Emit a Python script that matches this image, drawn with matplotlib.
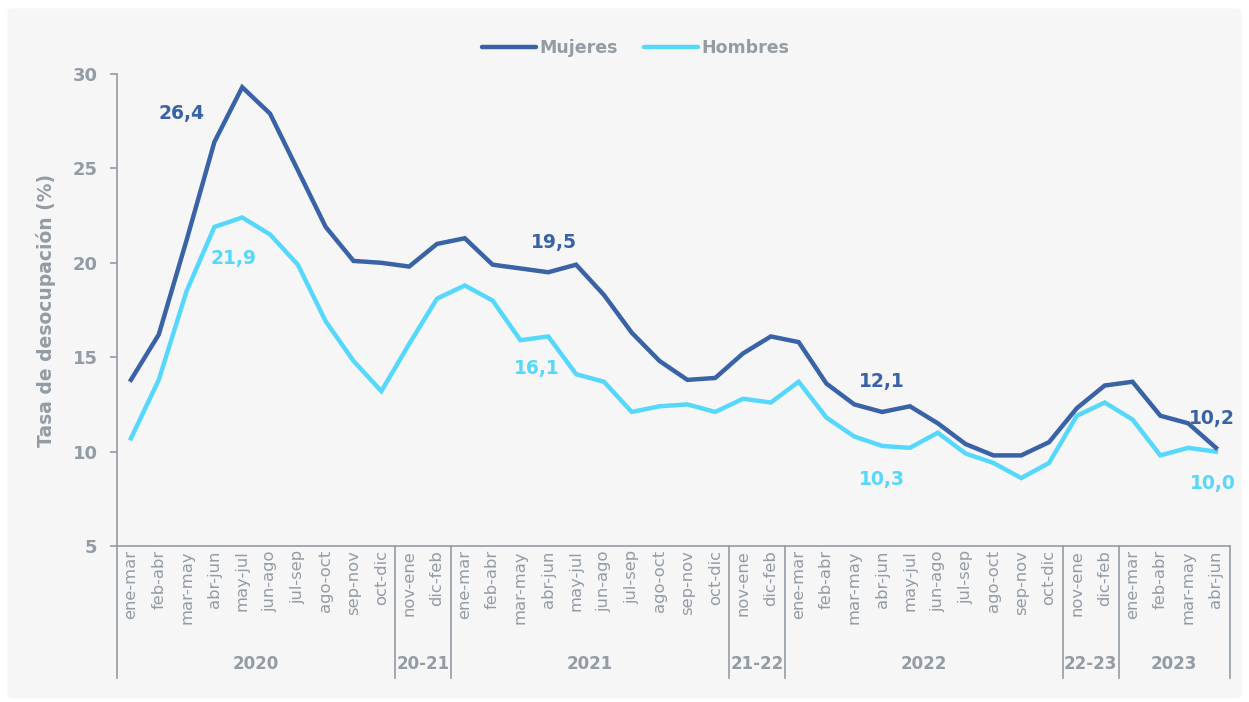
import matplotlib.pyplot as plt
import matplotlib.transforms as mtransforms
from matplotlib.patches import FancyBboxPatch

# Trimestres móviles
periodos = ["ene-mar", "feb-abr", "mar-may", "abr-jun", "may-jul", "jun-ago",
            "jul-sep", "ago-oct", "sep-nov", "oct-dic",
            "nov-ene", "dic-feb",
            "ene-mar", "feb-abr", "mar-may", "abr-jun", "may-jul", "jun-ago",
            "jul-sep", "ago-oct", "sep-nov", "oct-dic",
            "nov-ene", "dic-feb",
            "ene-mar", "feb-abr", "mar-may", "abr-jun", "may-jul", "jun-ago",
            "jul-sep", "ago-oct", "sep-nov", "oct-dic",
            "nov-ene", "dic-feb",
            "ene-mar", "feb-abr", "mar-may", "abr-jun"]

grupos = ["2020", "20-21", "2021", "21-22", "2022", "22-23", "2023"]
grupo_n = [10, 2, 10, 2, 10, 2, 4]

mujeres = [13.8, 16.2, 21.2, 26.4, 29.3, 27.9, 24.9, 21.9, 20.1, 20.0,
           19.8, 21.0,
           21.3, 19.9, 19.7, 19.5, 19.9, 18.3, 16.3, 14.8, 13.8, 13.9,
           15.2, 16.1,
           15.8, 13.6, 12.5, 12.1, 12.4, 11.5, 10.4, 9.8, 9.8, 10.5,
           12.3, 13.5,
           13.7, 11.9, 11.5, 10.2]

hombres = [10.7, 13.8, 18.5, 21.9, 22.4, 21.5, 19.9, 16.9, 14.8, 13.2,
           15.7, 18.1,
           18.8, 18.0, 15.9, 16.1, 14.1, 13.7, 12.1, 12.4, 12.5, 12.1,
           12.8, 12.6,
           13.7, 11.8, 10.8, 10.3, 10.2, 11.0, 9.9, 9.4, 8.6, 9.4,
           11.9, 12.6,
           11.7, 9.8, 10.2, 10.0]

# etiquetas destacadas: (serie, texto, x, y)
etiquetas = [("m", "26,4", 1.8, 27.9), ("h", "21,9", 3.7, 20.25),
             ("m", "19,5", 15.2, 21.05), ("h", "16,1", 14.6, 14.4),
             ("m", "12,1", 27.0, 13.7), ("h", "10,3", 27.0, 8.5),
             ("m", "10,2", 38.85, 11.75), ("h", "10,0", 38.9, 8.3)]

C_MUJ = "#3a62a7"
C_HOM = "#56d8fc"
GRIS = "#939ba5"
FONDO = "#f6f6f6"

plt.rcParams['font.family'] = ['DejaVu Sans']

fig = plt.figure(figsize=(12.49, 7.02), dpi=100)
fig.patch.set_facecolor("white")
fig.patches.append(FancyBboxPatch((0.006, 0.005), 0.988, 0.983,
                                  boxstyle="round,pad=0,rounding_size=0.005",
                                  transform=fig.transFigure, facecolor=FONDO,
                                  edgecolor="none", zorder=-10))

ax = fig.add_axes([0.0937, 0.2222, 0.891, 0.6724])
ax.set_facecolor(FONDO)

x = list(range(len(periodos)))
ax.plot(x, mujeres, color=C_MUJ, lw=3.2, label="Mujeres", solid_joinstyle="miter", zorder=3)
ax.plot(x, hombres, color=C_HOM, lw=3.2, label="Hombres", solid_joinstyle="miter", zorder=2)

for s, txt, tx, ty in etiquetas:
    ax.text(tx, ty, txt, color=C_MUJ if s == "m" else C_HOM, fontsize=13.5,
            fontweight="bold", ha="center", va="center")

ax.set_xlim(-0.5, len(periodos) - 0.5)
ax.set_ylim(5, 30)
ax.set_yticks([5, 10, 15, 20, 25, 30])
ax.set_xticks(x)
ax.set_xticklabels(periodos, rotation=90, fontsize=11.8, color=GRIS)
ax.tick_params(axis="x", length=0, pad=3)
ax.tick_params(axis="y", length=5, width=1.2, color=GRIS, labelcolor=GRIS,
               labelsize=13, pad=9)
for lab in ax.get_yticklabels():
    lab.set_fontweight("bold")

for sp in ["top", "right"]:
    ax.spines[sp].set_visible(False)
for sp in ["left", "bottom"]:
    ax.spines[sp].set_color(GRIS)
    ax.spines[sp].set_linewidth(1.2)

ax.set_ylabel("Tasa de desocupación (%)", color=GRIS, fontsize=13.5,
              fontweight="bold", labelpad=12)

# separadores y nombres de grupo
trans = mtransforms.blended_transform_factory(ax.transData, ax.transAxes)
inicio = -0.5
ax.plot([inicio, inicio], [0, -0.28], transform=trans, color=GRIS, lw=1.2, clip_on=False)
for g, n in zip(grupos, grupo_n):
    fin = inicio + n
    ax.plot([fin, fin], [0, -0.28], transform=trans, color=GRIS, lw=1.2, clip_on=False)
    ax.text((inicio + fin) / 2, -0.25, g, transform=trans, ha="center", va="center",
            color=GRIS, fontsize=12, fontweight="bold")
    inicio = fin

leg = fig.legend(loc="center", bbox_to_anchor=(0.509, 0.931), ncol=2, frameon=False,
                 fontsize=12.5, handlelength=3.1, handletextpad=0.2, columnspacing=1.5)
for t in leg.get_texts():
    t.set_color(GRIS)
    t.set_fontweight("bold")
for l in leg.get_lines():
    l.set_linewidth(3.2)
    l.set_solid_capstyle("round")

fig.savefig("out.png", dpi=100, facecolor=fig.get_facecolor())
